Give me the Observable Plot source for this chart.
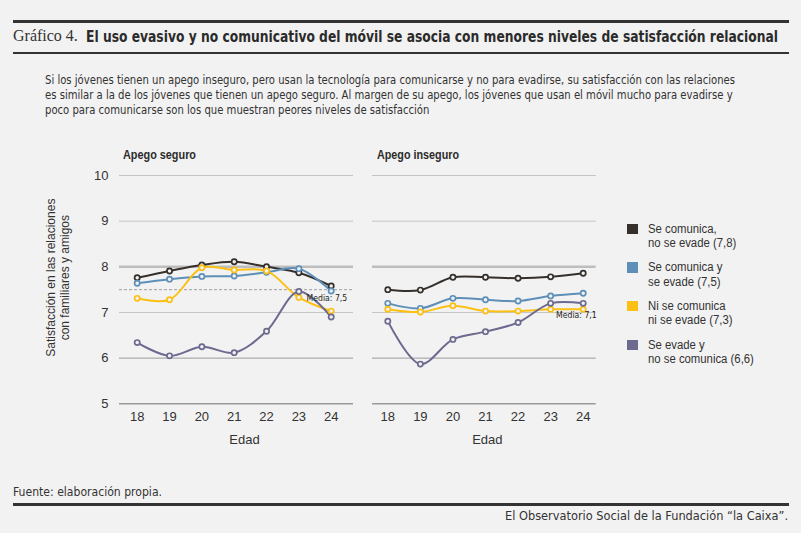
<!DOCTYPE html>
<html><head><meta charset="utf-8">
<script src="https://cdn.jsdelivr.net/npm/d3@7"></script>
<script src="https://cdn.jsdelivr.net/npm/@observablehq/plot@0.6"></script>
<style>
html,body{margin:0;padding:0;background:#f2f2f2;}
#root{position:relative;width:801px;height:533px;background:#f2f2f2;overflow:hidden;font-family:"DejaVu Sans Condensed","Liberation Sans",sans-serif;color:#333;}
.abs{position:absolute;white-space:nowrap;transform-origin:0 0;}
.rule{position:absolute;left:13px;width:776px;background:#333;}
.leg{position:absolute;left:627px;font-family:"Liberation Sans",Arial,sans-serif;font-size:12px;line-height:14.6px;color:#333;}
.leg .sq{position:absolute;left:0;top:1px;width:10.5px;height:10.5px;}
.leg .tx{position:absolute;left:21px;top:-1px;white-space:nowrap;transform-origin:0 0;transform:scaleX(0.945);}
#sub span{display:inline-block;}
</style></head>
<body><div id="root">
<div class="rule" style="top:20px;height:2.5px;"></div>
<div class="abs" style="left:13px;top:27px;font-family:'Liberation Serif','DejaVu Serif',serif;font-size:16px;color:#333;">Gráfico 4.</div>
<div class="abs fit" data-w="692" style="left:86px;top:28px;font-size:15px;font-weight:bold;color:#2b2b2b;">El uso evasivo y no comunicativo del móvil se asocia con menores niveles de satisfacción relacional</div>
<div class="rule" style="top:52px;height:2px;"></div>
<div class="abs fit" data-w="690" id="sub" style="left:45px;top:72px;font-size:12.5px;line-height:15px;color:#333;"><span>Si los jóvenes tienen un apego inseguro, pero usan la tecnología para comunicarse y no para evadirse, su satisfacción con las relaciones</span><br><span>es similar a la de los jóvenes que tienen un apego seguro. Al margen de su apego, los jóvenes que usan el móvil mucho para evadirse y</span><br><span>poco para comunicarse son los que muestran peores niveles de satisfacción</span></div>
<div class="abs fit" data-w="73" style="left:123px;top:148px;font-family:'Liberation Sans',Arial,sans-serif;font-size:12.5px;font-weight:bold;color:#2b2b2b;">Apego seguro</div>
<div class="abs fit" data-w="82" style="left:377px;top:148px;font-family:'Liberation Sans',Arial,sans-serif;font-size:12.5px;font-weight:bold;color:#2b2b2b;">Apego inseguro</div>
<div id="left" class="abs" style="left:0;top:140px;"></div>
<div id="right" class="abs" style="left:360px;top:140px;"></div>
<div id="legend"></div>
<div class="abs fit" data-w="149" style="left:13px;top:484px;font-size:12.5px;color:#333;">Fuente: elaboración propia.</div>
<div class="rule" style="top:503px;height:2.5px;"></div>
<div class="abs fit" data-w="283" style="left:505px;top:508px;font-size:12.5px;color:#333;">El Observatorio Social de la Fundación “la Caixa”.</div>
</div>
<script>
// ---- data ----
const edades = [18, 19, 20, 21, 22, 23, 24];
const grupos = ["Se comunica, no se evade", "Se comunica y se evade", "Ni se comunica ni se evade", "Se evade y no se comunica"];
const leyenda = [["Se comunica,", "no se evade (7,8)"], ["Se comunica y", "se evade (7,5)"], ["Ni se comunica", "ni se evade (7,3)"], ["Se evade y", "no se comunica (6,6)"]];
const colores = ["#35302c", "#5e8fb9", "#fcc015", "#6c6a8f"];
// Apego seguro
const seguroComunica = [7.76, 7.91, 8.04, 8.11, 8.00, 7.87, 7.58];
const seguroAmbos = [7.64, 7.73, 7.79, 7.80, 7.88, 7.96, 7.47];
const seguroNinguno = [7.31, 7.28, 7.98, 7.93, 7.91, 7.33, 7.03];
const seguroEvade = [6.34, 6.05, 6.25, 6.12, 6.59, 7.46, 6.90];
// Apego inseguro
const insegComunica = [7.50, 7.49, 7.77, 7.77, 7.75, 7.78, 7.86];
const insegAmbos = [7.20, 7.09, 7.31, 7.28, 7.25, 7.36, 7.42];
const insegNinguno = [7.07, 7.01, 7.15, 7.03, 7.03, 7.07, 7.07];
const insegEvade = [6.81, 5.87, 6.41, 6.58, 6.78, 7.20, 7.20];
const yTicks = [5, 6, 7, 8, 9, 10];
const mediaSeguro = 7.5, mediaSeguroLabel = "Media: 7,5";
const mediaInseg = 7.1, mediaInsegLabel = "Media: 7,1";

function rows(series) {
  const out = [];
  series.forEach((vals, i) => vals.forEach((v, j) => out.push({grupo: grupos[i], edad: edades[j], valor: v})));
  return out;
}
const dataSeguro = rows([seguroComunica, seguroAmbos, seguroNinguno, seguroEvade]);
const dataInseg = rows([insegComunica, insegAmbos, insegNinguno, insegEvade]);

const gridMarks = [
  Plot.ruleY([10, 9, 7], {stroke: "#c4c4c4", strokeWidth: 1}),
  Plot.ruleY([8], {stroke: "#bdbdbd", strokeWidth: 2.5}),
  Plot.ruleY([6], {stroke: "#9a9a9a", strokeWidth: 1}),
  Plot.ruleY([5], {stroke: "#9a9a9a", strokeWidth: 1.5})
];

function panel(data, opts) {
  return Plot.plot({
    width: opts.width, height: 320,
    marginLeft: opts.ml, marginRight: opts.mr, marginTop: 35, marginBottom: 56.7,
    style: {background: "transparent", fontFamily: "'Liberation Sans', Arial, sans-serif", fontSize: "13px", color: "#333", overflow: "visible"},
    x: {domain: [18, 24], range: opts.xr, axis: null},
    y: {domain: [5, 10], axis: null},
    color: {domain: grupos, range: colores},
    marks: [
      ...gridMarks,
      opts.dashed ? Plot.ruleY([opts.media], {stroke: "#8a8a8a", strokeWidth: 0.8, strokeDasharray: "3,2"}) : null,
      opts.yaxis ? Plot.axisY({ticks: yTicks, tickSize: 0, tickPadding: 11, label: null, tickFormat: d => d}) : null,
      opts.yaxis ? Plot.text(["Satisfacción en las relaciones\ncon familiares y amigos"], {frameAnchor: "left", textAnchor: "middle", rotate: -90, dx: -62, dy: -12, fontSize: 12, lineHeight: 1.15, fill: "#333"}) : null,
      Plot.axisX({ticks: edades, tickSize: 0, tickPadding: 8, label: null, tickFormat: d => d}),
      Plot.text(["Edad"], {frameAnchor: "bottom", dy: 40, dx: opts.edadDx, fontSize: 13, fill: "#333"}),
      Plot.line(data, {x: "edad", y: "valor", z: "grupo", stroke: "grupo", strokeWidth: 2, curve: "catmull-rom"}),
      Plot.dot(data, {x: "edad", y: "valor", stroke: "grupo", fill: "#f2f2f2", r: 2.6, strokeWidth: 1.7}),
      Plot.text([{edad: 24, valor: opts.media}], {x: "edad", y: "valor", text: () => opts.mediaLabel, textAnchor: "end", dx: opts.mediaDx, dy: opts.mediaDy, fontSize: 8.6, fill: "#222", fontFamily: "'DejaVu Sans Condensed',sans-serif"})
    ].filter(Boolean)
  });
}

document.getElementById("left").appendChild(panel(dataSeguro, {
  width: 360, ml: 119, mr: 7, xr: [136.7, 330.7], yaxis: true, dashed: true,
  media: mediaSeguro, mediaLabel: mediaSeguroLabel, mediaDx: 16, mediaDy: 9, edadDx: 8
}));
document.getElementById("right").appendChild(panel(dataInseg, {
  width: 260, ml: 12, mr: 24.3, xr: [27.3, 222.7], yaxis: false, dashed: false,
  media: mediaInseg, mediaLabel: mediaInsegLabel, mediaDx: 13.5, mediaDy: 7, edadDx: 3
}));

// legend
const lg = document.getElementById("legend");
const tops = [222.5, 261, 299.5, 338.5];
leyenda.forEach((lines, i) => {
  const d = document.createElement("div");
  d.className = "leg";
  d.style.top = tops[i] + "px";
  d.innerHTML = `<div class="sq" style="background:${colores[i]}"></div><div class="tx">${lines[0]}<br>${lines[1]}</div>`;
  lg.appendChild(d);
});

// horizontal fitting of condensed typography
document.querySelectorAll(".fit").forEach(el => {
  let w = el.getBoundingClientRect().width;
  const spans = el.querySelectorAll("span");
  if (spans.length) w = Math.max(...[...spans].map(s => s.getBoundingClientRect().width));
  const k = +el.dataset.w / w;
  el.style.transform = `scaleX(${k})`;
});
</script>
</body></html>
